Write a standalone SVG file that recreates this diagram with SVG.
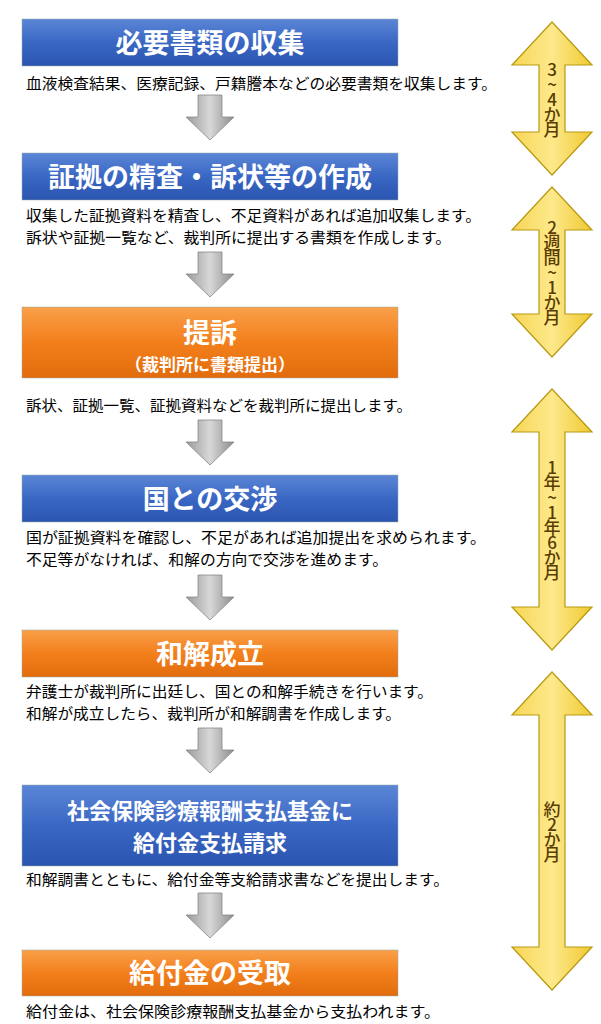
<svg xmlns="http://www.w3.org/2000/svg" width="601" height="1024" viewBox="0 0 601 1024">
<defs>
<linearGradient id="blue" x1="0" y1="0" x2="0" y2="1"><stop offset="0" stop-color="#5b86d6"/><stop offset="0.5" stop-color="#3a67c4"/><stop offset="1" stop-color="#2a55b0"/></linearGradient>
<linearGradient id="orange" x1="0" y1="0" x2="0" y2="1"><stop offset="0" stop-color="#f9a04a"/><stop offset="0.5" stop-color="#f37f1c"/><stop offset="1" stop-color="#e26c0c"/></linearGradient>
<linearGradient id="gray" x1="0" y1="0" x2="1" y2="0"><stop offset="0" stop-color="#9a9a9a"/><stop offset="0.5" stop-color="#d8d8d8"/><stop offset="1" stop-color="#8c8c8c"/></linearGradient>
<linearGradient id="gold" x1="0" y1="0" x2="1" y2="0"><stop offset="0" stop-color="#f7d655"/><stop offset="0.5" stop-color="#fde98c"/><stop offset="1" stop-color="#f0c830"/></linearGradient>
<path id="garrow" d="M-12,0 H12 V22 H24 L0,45 L-24,22 H-12 Z"/>
</defs>
<style>
.box{stroke:#9aa;stroke-width:0.5}
.bt{font-family:"Noto Sans CJK JP","Noto Sans CJK SC",sans-serif;font-weight:bold;fill:#fff;text-anchor:middle}
.d{font-family:"Noto Sans CJK JP",sans-serif;font-size:15px;fill:#000}
.ga{fill:url(#gray);stroke:#888;stroke-width:0.8}
.ya{fill:url(#gold);stroke:#b89a10;stroke-width:1.2}
.yt{font-family:"Noto Sans CJK JP",sans-serif;font-size:17px;font-weight:500;fill:#5a3c00;writing-mode:vertical-rl;text-orientation:upright;text-anchor:middle;letter-spacing:-2px}
</style>
<rect width="601" height="1024" fill="#fff"/>
<g id="connectors">
<use href="#garrow" class="ga" x="210" y="95"/>
<use href="#garrow" class="ga" x="210" y="252"/>
<use href="#garrow" class="ga" x="210" y="420"/>
<use href="#garrow" class="ga" x="210" y="575"/>
<use href="#garrow" class="ga" x="210" y="728"/>
<use href="#garrow" class="ga" x="210" y="893"/>
</g>
<g id="n1"><rect class="box" x="22" y="19" width="376" height="47" fill="url(#blue)"/><text class="bt" x="210" y="53" font-size="27">必要書類の収集</text>
<text class="d" x="26" y="89" textLength="471" lengthAdjust="spacingAndGlyphs">血液検査結果、医療記録、戸籍謄本などの必要書類を収集します。</text></g>
<g id="n2"><rect class="box" x="22" y="153" width="376" height="47" fill="url(#blue)"/><text class="bt" x="210" y="187" font-size="27">証拠の精査・訴状等の作成</text>
<text class="d" x="26" y="221" textLength="455" lengthAdjust="spacingAndGlyphs">収集した証拠資料を精査し、不足資料があれば追加収集します。</text>
<text class="d" x="26" y="243" textLength="425" lengthAdjust="spacingAndGlyphs">訴状や証拠一覧など、裁判所に提出する書類を作成します。</text></g>
<g id="n3"><rect class="box" x="22" y="307" width="376" height="71" fill="url(#orange)"/><text class="bt" x="210" y="343" font-size="27">提訴</text><text class="bt" x="210" y="371" font-size="17">（裁判所に書類提出）</text>
<text class="d" x="26" y="411" textLength="386" lengthAdjust="spacingAndGlyphs">訴状、証拠一覧、証拠資料などを裁判所に提出します。</text></g>
<g id="n4"><rect class="box" x="22" y="475" width="376" height="47" fill="url(#blue)"/><text class="bt" x="210" y="509" font-size="27">国との交渉</text>
<text class="d" x="26" y="543" textLength="460" lengthAdjust="spacingAndGlyphs">国が証拠資料を確認し、不足があれば追加提出を求められます。</text>
<text class="d" x="26" y="565" textLength="362" lengthAdjust="spacingAndGlyphs">不足等がなければ、和解の方向で交渉を進めます。</text></g>
<g id="n5"><rect class="box" x="22" y="630" width="376" height="47" fill="url(#orange)"/><text class="bt" x="210" y="664" font-size="27">和解成立</text>
<text class="d" x="26" y="697" textLength="407" lengthAdjust="spacingAndGlyphs">弁護士が裁判所に出廷し、国との和解手続きを行います。</text>
<text class="d" x="26" y="719" textLength="375" lengthAdjust="spacingAndGlyphs">和解が成立したら、裁判所が和解調書を作成します。</text></g>
<g id="n6"><rect class="box" x="22" y="785" width="376" height="81" fill="url(#blue)"/><text class="bt" x="210" y="819" font-size="22">社会保険診療報酬支払基金に</text><text class="bt" x="210" y="851" font-size="22">給付金支払請求</text>
<text class="d" x="26" y="885" textLength="423" lengthAdjust="spacingAndGlyphs">和解調書とともに、給付金等支給請求書などを提出します。</text></g>
<g id="n7"><rect class="box" x="22" y="950" width="376" height="46" fill="url(#orange)"/><text class="bt" x="210" y="983" font-size="27">給付金の受取</text>
<text class="d" x="26" y="1017" textLength="414" lengthAdjust="spacingAndGlyphs">給付金は、社会保険診療報酬支払基金から支払われます。</text></g>
<g id="p1"><path class="ya" d="M552,22 L592,65 H565 V132 H592 L552,175 L512,132 H539 V65 H512 Z"/><text class="yt" x="552" y="99">3~4か月</text></g>
<g id="p2"><path class="ya" d="M552,187 L592,230 H565 V314 H592 L552,357 L512,314 H539 V230 H512 Z"/><text class="yt" x="552" y="272">2週間~1か月</text></g>
<g id="p3"><path class="ya" d="M552,389 L592,432 H565 V607 H592 L552,650 L512,607 H539 V432 H512 Z"/><text class="yt" x="552" y="519">1年~1年6か月</text></g>
<g id="p4"><path class="ya" d="M552,672 L592,715 H565 V947 H592 L552,990 L512,947 H539 V715 H512 Z"/><text class="yt" x="552" y="831">約2か月</text></g>
</svg>
